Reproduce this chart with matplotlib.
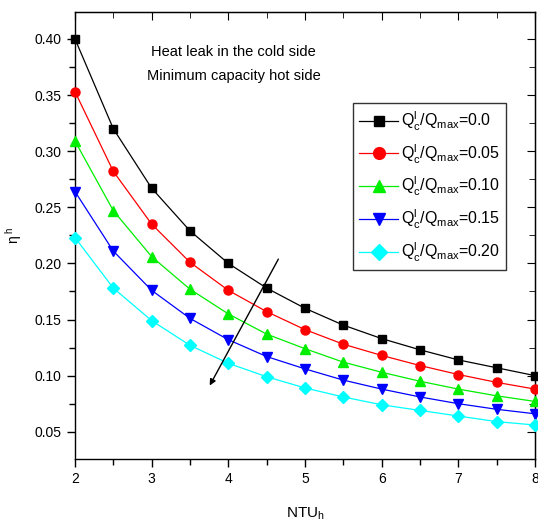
import matplotlib
matplotlib.use("Agg")
import matplotlib.pyplot as plt
from matplotlib.ticker import MultipleLocator

plt.rcParams['font.family'] = ['Liberation Sans', 'DejaVu Sans']
plt.rcParams['mathtext.fontset'] = 'custom'
plt.rcParams['mathtext.rm'] = 'Liberation Sans'
plt.rcParams['mathtext.it'] = 'Liberation Sans'

ntu = [2.0, 2.5, 3.0, 3.5, 4.0, 4.5, 5.0, 5.5, 6.0, 6.5, 7.0, 7.5, 8.0]
eta_000 = [0.400, 0.320, 0.267, 0.229, 0.200, 0.178, 0.160, 0.145, 0.133, 0.123, 0.114, 0.107, 0.100]
eta_005 = [0.353, 0.282, 0.235, 0.201, 0.176, 0.157, 0.141, 0.128, 0.118, 0.109, 0.101, 0.094, 0.088]
eta_010 = [0.309, 0.247, 0.206, 0.177, 0.155, 0.137, 0.124, 0.112, 0.103, 0.095, 0.088, 0.082, 0.077]
eta_015 = [0.264, 0.211, 0.176, 0.151, 0.132, 0.117, 0.106, 0.096, 0.088, 0.081, 0.075, 0.070, 0.066]
eta_020 = [0.223, 0.178, 0.149, 0.127, 0.111, 0.099, 0.089, 0.081, 0.074, 0.069, 0.064, 0.059, 0.056]
ratios = ["0.0", "0.05", "0.10", "0.15", "0.20"]

series = [eta_000, eta_005, eta_010, eta_015, eta_020]
colors = ["black", "red", "#00ee00", "blue", "cyan"]
markers = ["s", "o", "^", "v", "D"]
sizes = [5.5, 6.5, 7, 7, 6]


def main():
    """draws the chart"""
    fig = plt.figure(figsize=(5.38, 5.25), dpi=100)
    ax = fig.add_axes([0.1394, 0.1257, 0.855, 0.8514])

    for vals, c, m, s, r in zip(series, colors, markers, sizes, ratios):
        ax.plot(ntu, vals, color=c, marker=m, markersize=s, lw=0.9,
                label=r"$\mathregular{Q_c^l/Q_{max}}$=" + r,
                clip_on=False, zorder=3)

    ax.set_xlim(2, 8)
    ax.set_ylim(0.0257, 0.424)
    ax.xaxis.set_major_locator(MultipleLocator(1))
    ax.xaxis.set_minor_locator(MultipleLocator(0.5))
    ax.yaxis.set_minor_locator(MultipleLocator(0.025))
    ax.set_yticks([0.05, 0.10, 0.15, 0.20, 0.25, 0.30, 0.35, 0.40])
    ax.set_yticklabels(["0.05", "0.10", "0.15", "0.20", "0.25", "0.30", "0.35", "0.40"])
    ax.tick_params(which="both", direction="out", labelsize=10, width=1)
    ax.tick_params(which="major", length=6)
    ax.tick_params(which="minor", length=4)
    for sp in ax.spines.values():
        sp.set_linewidth(1)

    # inward ticks on top and right
    top = ax.secondary_xaxis("top")
    top.xaxis.set_major_locator(MultipleLocator(1))
    top.xaxis.set_minor_locator(MultipleLocator(0.5))
    top.tick_params(which="both", direction="in", labeltop=False)
    top.tick_params(which="major", length=6)
    top.tick_params(which="minor", length=4)
    right = ax.secondary_yaxis("right")
    right.yaxis.set_major_locator(MultipleLocator(0.05))
    right.yaxis.set_minor_locator(MultipleLocator(0.025))
    right.tick_params(which="both", direction="in", labelright=False)
    right.tick_params(which="major", length=6)
    right.tick_params(which="minor", length=4)

    ax.set_xlabel(r"$\mathregular{NTU_h}$", fontsize=11, labelpad=14)
    ax.set_ylabel(r"$\mathregular{\eta^{\ h}}$", fontsize=10, labelpad=8)

    ax.text(0.345, 0.91, "Heat leak in the cold side", transform=ax.transAxes,
            ha="center", va="center", fontsize=10.5)
    ax.text(0.345, 0.857, "Minimum capacity hot side", transform=ax.transAxes,
            ha="center", va="center", fontsize=10.5)

    ax.annotate("", xy=(3.74, 0.089), xytext=(4.67, 0.206),
                arrowprops=dict(arrowstyle="-|>", color="black", lw=1.0,
                                mutation_scale=9))

    leg = ax.legend(loc="upper left", bbox_to_anchor=(0.587, 0.814),
                    fontsize=11.5, frameon=True, fancybox=False,
                    edgecolor="black", handlelength=2.4, markerscale=1.3,
                    handletextpad=0.2, borderpad=0.4, labelspacing=0.6)
    leg.get_frame().set_linewidth(1)

    fig.savefig("out.png", dpi=100)


if __name__ == "__main__":
    main()
